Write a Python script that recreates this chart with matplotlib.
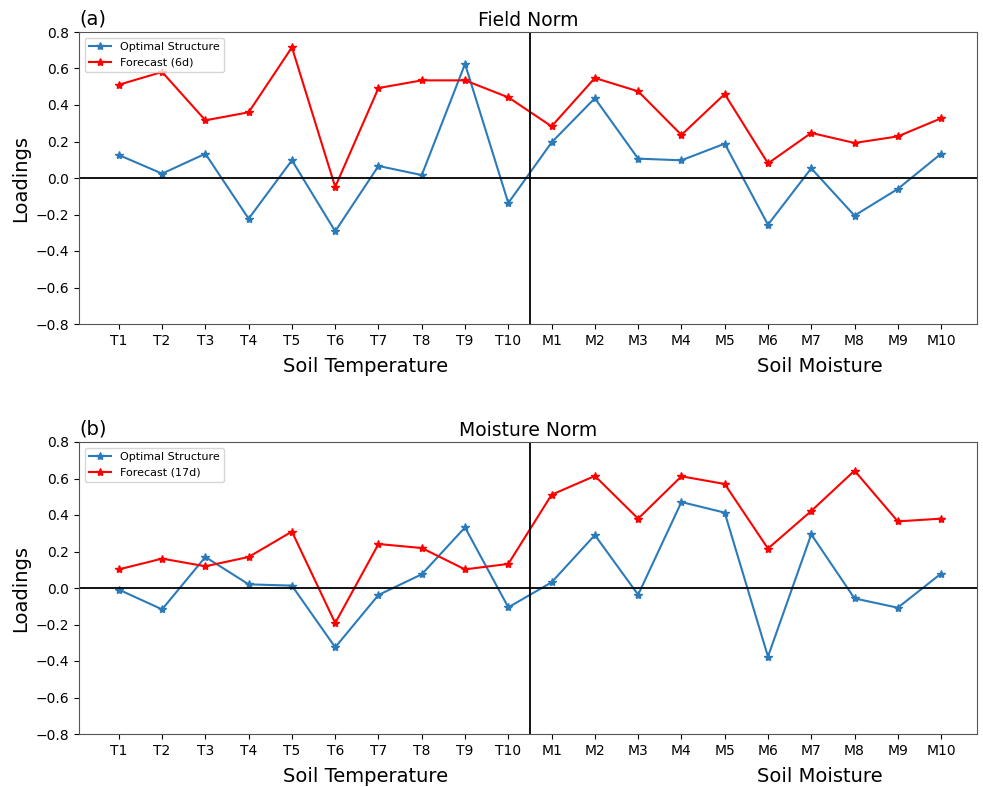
import matplotlib
matplotlib.use("Agg")
import matplotlib.pyplot as plt
import matplotlib.transforms as mtransforms

categories = ["T1", "T2", "T3", "T4", "T5", "T6", "T7", "T8", "T9", "T10",
              "M1", "M2", "M3", "M4", "M5", "M6", "M7", "M8", "M9", "M10"]

# Panel (a) Field Norm
field_optimal = [0.126, 0.024, 0.133, -0.223, 0.097, -0.292, 0.066, 0.016, 0.625, -0.137,
                 0.195, 0.437, 0.106, 0.097, 0.188, -0.256, 0.053, -0.206, -0.060, 0.133]
field_forecast = [0.511, 0.581, 0.316, 0.360, 0.716, -0.049, 0.493, 0.535, 0.535, 0.442,
                  0.283, 0.548, 0.475, 0.236, 0.460, 0.080, 0.247, 0.192, 0.228, 0.327]

# Panel (b) Moisture Norm
moist_optimal = [-0.009, -0.117, 0.170, 0.020, 0.013, -0.325, -0.038, 0.075, 0.332, -0.106,
                 0.031, 0.290, -0.037, 0.471, 0.413, -0.376, 0.294, -0.057, -0.108, 0.079]
moist_forecast = [0.102, 0.161, 0.119, 0.170, 0.309, -0.192, 0.241, 0.219, 0.102, 0.132,
                  0.511, 0.614, 0.380, 0.612, 0.570, 0.216, 0.422, 0.643, 0.365, 0.380]

panels = [
    ("(a)", "Field Norm", field_optimal, field_forecast, "Forecast (6d)"),
    ("(b)", "Moisture Norm", moist_optimal, moist_forecast, "Forecast (17d)"),
]
yticks = [-0.8, -0.6, -0.4, -0.2, 0.0, 0.2, 0.4, 0.6, 0.8]

W, H = 983, 787
fig = plt.figure(figsize=(W / 100, H / 100), dpi=100)

axes_px = [(79, 32, 977, 324), (79, 442, 977, 734)]
x = list(range(len(categories)))

for (lbl, title, opt, fc, fclabel), (l, t, r, b) in zip(panels, axes_px):
    ax = fig.add_axes([l / W, 1 - b / H, (r - l) / W, (b - t) / H])
    ax.plot(x, opt, color="#2b7bba", marker="*", markersize=6, linewidth=1.5,
            label="Optimal Structure")
    ax.plot(x, fc, color="red", marker="*", markersize=6, linewidth=1.5,
            label=fclabel)
    ax.axhline(0, color="black", linewidth=1.3)
    ax.axvline(9.5, color="black", linewidth=1.3)
    ax.set_ylim(-0.8, 0.8)
    ax.set_xlim(-0.92, 19.83)
    ax.set_yticks(yticks)
    ax.set_yticklabels([f"{v:.1f}".replace("-", "\u2212") for v in yticks])
    ax.set_xticks(x)
    ax.set_xticklabels(categories)
    ax.tick_params(labelsize=10)
    ax.set_ylabel("Loadings", fontsize=14)
    ax.set_title(title, fontsize=13.5, pad=4)
    ax.text(0.0, 1.012, lbl, transform=ax.transAxes, fontsize=14,
            ha="left", va="bottom")
    trans = mtransforms.blended_transform_factory(ax.transData, ax.transAxes)
    ax.text(5.7, -0.145, "Soil Temperature", transform=trans, fontsize=14,
            ha="center", va="center")
    ax.text(16.2, -0.145, "Soil Moisture", transform=trans, fontsize=14,
            ha="center", va="center")
    ax.legend(loc="upper left", fontsize=8, framealpha=0.8)
    for s in ax.spines.values():
        s.set_color("#555555")

fig.savefig("out.png", dpi=100)
